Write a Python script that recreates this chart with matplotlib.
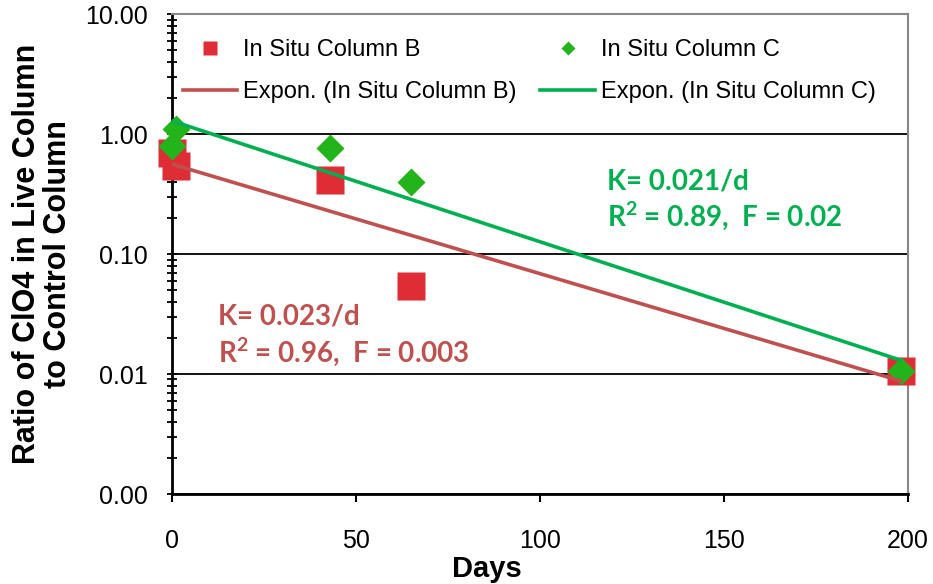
import numpy as np
import matplotlib
matplotlib.use('Agg')
import matplotlib.pyplot as plt
from matplotlib.ticker import FuncFormatter, LogLocator

# ratio of ClO4 (live / control) vs days
days_b = [0, 1, 43, 65, 198]
ratio_b = [0.69, 0.54, 0.41, 0.054, 0.0106]
days_c = [0, 1, 43, 65, 198]
ratio_c = [0.80, 1.10, 0.77, 0.40, 0.0105]

label_b = 'In Situ Column B'
label_c = 'In Situ Column C'
ann_b = ['K= 0.023/d', 'R$^{\\mathrm{2}}$ = 0.96,  F = 0.003']
ann_c = ['K= 0.021/d', 'R$^{\\mathrm{2}}$ = 0.89,  F = 0.02']

red_pt = '#DE2D35'
green_pt = '#22B41A'
red_fit = '#C0504D'
green_fit = '#00B050'

plt.rcParams['font.family'] = ['Liberation Sans', 'DejaVu Sans']
plt.rcParams['mathtext.fontset'] = 'custom'
plt.rcParams['mathtext.rm'] = 'Lato:bold'

fig = plt.figure(figsize=(9.33, 5.84), dpi=100)
ax = fig.add_axes([0.1844, 0.1541, 0.7888, 0.8219])

# exponential trendlines, same as excel (fit on ln y)
def expfit(x, y):
    k, b = np.polyfit(np.array(x, float), np.log(y), 1)
    xx = np.linspace(0, max(x), 200)
    return xx, np.exp(b + k * xx)

ax.plot(days_b, ratio_b, 's', color=red_pt, ms=20, mec='none', zorder=3, label=label_b, clip_on=False)
ax.plot(days_c, ratio_c, 'D', color=green_pt, ms=14.5, mec='none', zorder=4, label=label_c, clip_on=False)
xb, yb = expfit(days_b, ratio_b)
xc, yc = expfit(days_c, ratio_c)
ax.plot(xb, yb, color=red_fit, lw=2.6, zorder=5, label='Expon. (' + label_b + ')')
ax.plot(xc, yc, color=green_fit, lw=2.6, zorder=5, label='Expon. (' + label_c + ')')

ax.set_yscale('log')
ax.set_ylim(0.001, 10)
ax.set_xlim(0, 200)
ax.set_xticks([0, 50, 100, 150, 200])
ax.yaxis.set_major_locator(LogLocator(base=10, numticks=10))
ax.yaxis.set_minor_locator(LogLocator(base=10, subs=np.arange(2, 10), numticks=20))
ax.yaxis.set_major_formatter(FuncFormatter(lambda v, p: '%.2f' % v))
ax.yaxis.set_minor_formatter(FuncFormatter(lambda v, p: ''))
ax.yaxis.grid(True, which='major', color='black', lw=1.3)
ax.set_axisbelow(True)

ax.tick_params(axis='y', which='both', direction='inout', length=7, width=1.3, labelsize=18, pad=14)
ax.tick_params(axis='x', direction='out', length=6, width=1.5, labelsize=18, pad=19)
ax.spines['left'].set_linewidth(2)
ax.spines['bottom'].set_linewidth(2)
ax.spines['top'].set_color('#888888')
ax.spines['right'].set_color('#888888')
ax.spines['top'].set_linewidth(1.5)
ax.spines['right'].set_linewidth(1.5)

handles, labels = ax.get_legend_handles_labels()
order = [0, 2, 1, 3]
ax.legend([handles[i] for i in order], [labels[i] for i in order], ncol=2, frameon=False,
          loc='upper left', bbox_to_anchor=(0.015, 0.948), borderaxespad=0, borderpad=0,
          fontsize=17, markerscale=0.5, handlelength=2.3, handletextpad=0.25,
          columnspacing=1.0, labelspacing=0.85)

fig.text(0.046, 0.565, 'Ratio of ClO4 in Live Column\nto Control Column', rotation=90,
         ha='center', va='center', fontsize=22, fontweight='bold', linespacing=1.05)
fig.text(0.522, 0.025, 'Days', ha='center', va='center', fontsize=21, fontweight='bold')

for i, s in enumerate(ann_b):
    ax.text(0.0625, [0.354, 0.273][i], s, transform=ax.transAxes, color=red_fit,
            fontsize=20, fontweight='bold', family=['Lato', 'DejaVu Sans'], va='baseline')
for i, s in enumerate(ann_c):
    ax.text(0.591, [0.635, 0.556][i], s, transform=ax.transAxes, color=green_fit,
            fontsize=20, fontweight='bold', family=['Lato', 'DejaVu Sans'], va='baseline')

fig.savefig('out.png', dpi=100)
